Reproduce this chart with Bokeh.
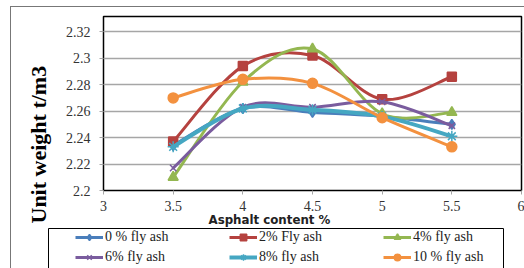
from bokeh.plotting import figure
from bokeh.layouts import column
from bokeh.models import (FixedTicker, Legend, LegendItem, Title, Range1d)
from bokeh.embed import file_html
from bokeh.resources import INLINE

# ---- data ----
asphalt = [3.5, 4.0, 4.5, 5.0, 5.5]
fa0 = [2.234, 2.262, 2.259, 2.256, 2.250]
fa2 = [2.237, 2.294, 2.302, 2.269, 2.286]
fa4 = [2.210, 2.282, 2.307, 2.258, 2.259]
fa6 = [2.217, 2.263, 2.263, 2.267, 2.249]
fa8 = [2.233, 2.262, 2.261, 2.256, 2.241]
fa10 = [2.270, 2.284, 2.281, 2.255, 2.233]

series_names = ["0 % fly ash", "2% Fly ash", "4% fly ash", "6% fly ash", "8% fly ash", "10 % fly ash"]
series_values = [fa0, fa2, fa4, fa6, fa8, fa10]
colors = ["#4A7EBB", "#B5423F", "#94B751", "#7A5C9E", "#45A7C2", "#F3913F"]
markers = ["diamond", "square", "triangle", "x", "asterisk", "circle"]
marker_sizes = [10, 9, 10, 9, 11, 10]
line_widths = [3, 3, 3, 3, 4, 3]

x_ticks = [3, 3.5, 4, 4.5, 5, 5.5, 6]
x_tick_labels = ["3", "3.5", "4", "4.5", "5", "5.5", "6"]
y_ticks = [2.2, 2.22, 2.24, 2.26, 2.28, 2.3, 2.32]
y_tick_labels = ["2.2", "2.22", "2.24", "2.26", "2.28", "2.3", "2.32"]

x_title = "Asphalt content %"
y_title = "Unit weight t/m3"


def smooth(xs, ys):
    n = len(xs)
    out = dict(x0=[], y0=[], x1=[], y1=[], cx0=[], cy0=[], cx1=[], cy1=[])
    for i in range(n - 1):
        ip = i - 1 if i > 0 else i
        inn = i + 2 if i + 2 < n else i + 1
        out["x0"].append(xs[i]); out["y0"].append(ys[i])
        out["x1"].append(xs[i + 1]); out["y1"].append(ys[i + 1])
        out["cx0"].append(xs[i] + (xs[i + 1] - xs[ip]) / 6)
        out["cy0"].append(ys[i] + (ys[i + 1] - ys[ip]) / 6)
        out["cx1"].append(xs[i + 1] - (xs[inn] - xs[i]) / 6)
        out["cy1"].append(ys[i + 1] - (ys[inn] - ys[i]) / 6)
    return out


p = figure(width=513, height=221, x_range=Range1d(3, 6), y_range=Range1d(2.2, 2.3315),
           output_backend="svg", toolbar_location=None,
           min_border_left=92, min_border_right=3, min_border_top=9, min_border_bottom=38)

p.outline_line_color = "black"
p.outline_line_width = 1.5
p.xgrid.visible = False
p.ygrid.grid_line_color = "#A6A6A6"
p.ygrid.grid_line_width = 1.5
p.ygrid.ticker = FixedTicker(ticks=y_ticks)

p.xaxis.ticker = FixedTicker(ticks=x_ticks)
p.yaxis.ticker = FixedTicker(ticks=y_ticks)
p.xaxis.major_label_overrides = dict(zip(x_ticks, x_tick_labels))
p.yaxis.major_label_overrides = dict(zip(y_ticks, y_tick_labels))
for ax in (p.xaxis, p.yaxis):
    ax.axis_line_color = None
    ax.major_tick_line_color = "#A6A6A6"
    ax.minor_tick_line_color = None
    ax.major_tick_in = 0
    ax.major_tick_out = 4
    ax.major_label_text_font = "Liberation Serif"
    ax.major_label_text_font_size = "14px"
    ax.major_label_text_color = "#333333"
p.xaxis.major_label_standoff = 6
p.yaxis.major_label_standoff = 9

# legend-only figure below the chart (its view range excludes the data,
# so its renderers only supply the legend glyphs)
lg = figure(width=456, height=41, x_range=Range1d(0, 1), y_range=Range1d(0, 1),
            output_backend="svg", toolbar_location=None,
            x_axis_location=None, y_axis_location=None,
            min_border_left=0, min_border_right=0, min_border_top=0, min_border_bottom=0,
            margin=(0, 0, 0, 37))
lg.grid.visible = False
lg.outline_line_color = "black"
lg.outline_line_width = 1
for fig in (p, lg):
    if "frame_align" in fig.properties():
        fig.frame_align = False

items = []
for name, vals, c, m, ms, lw in zip(series_names, series_values, colors, markers, marker_sizes, line_widths):
    seg = smooth(asphalt, vals)
    p.bezier(x0=seg["x0"], y0=seg["y0"], x1=seg["x1"], y1=seg["y1"],
             cx0=seg["cx0"], cy0=seg["cy0"], cx1=seg["cx1"], cy1=seg["cy1"],
             line_color=c, line_width=lw, line_cap="round")
    p.scatter(x=asphalt, y=vals, marker=m, size=ms, fill_color=c, line_color=c, line_width=1.5)
    lr = lg.line(x=asphalt, y=vals, line_color=c, line_width=lw)
    ls = lg.scatter(x=asphalt, y=vals, marker=m, size=ms, fill_color=c, line_color=c, line_width=1.5)
    items.append(LegendItem(label=name, renderers=[lr, ls]))

order = [0, 3, 1, 4, 2, 5]
legend = Legend(items=[items[i] for i in order], location=(27, 4), ncols=3, padding=0, margin=0,
                border_line_alpha=0, background_fill_alpha=0,
                glyph_width=28, glyph_height=16, label_height=16, label_width=120,
                label_standoff=2, spacing=4,
                label_text_font="Liberation Serif", label_text_font_size="14px",
                label_text_color="#222222")
lg.add_layout(legend, "center")

p.add_layout(Title(text=y_title, align="left", offset=-33, standoff=24,
                   text_font="Liberation Serif", text_font_size="22px", text_font_style="bold",
                   text_color="black"), "left")
p.add_layout(Title(text=x_title, align="left", offset=105, standoff=-6,
                   text_font="DejaVu Sans", text_font_size="11.8px", text_font_style="bold",
                   text_color="#222222"), "below")

layout = column(p, lg, margin=(6, 0, 0, 10), spacing=0,
                styles={"border": "1px solid #777777"})

open("out.html", "w").write(file_html(layout, INLINE))
